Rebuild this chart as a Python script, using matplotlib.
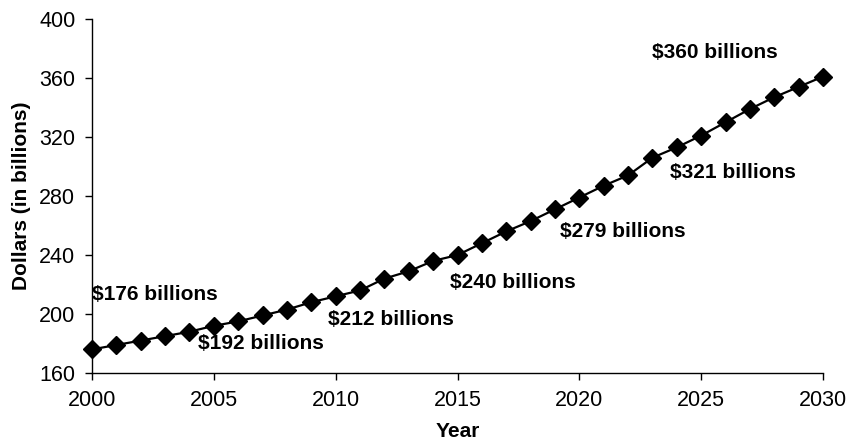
import matplotlib
matplotlib.use("Agg")
import matplotlib.pyplot as plt

years = list(range(2000, 2031))
values = [176, 179, 182, 185, 188, 192, 195, 199, 203, 208, 212, 216, 224, 229, 236,
          240, 248, 256, 263, 271, 279, 287, 294, 306, 313, 321, 330, 339, 347, 354, 361]

ann_text = ["$176 billions", "$192 billions", "$212 billions", "$240 billions",
            "$279 billions", "$321 billions", "$360 billions"]
ann_x = [2000.0, 2004.35, 2009.7, 2014.7, 2019.2, 2023.7, 2023.0]
ann_y = [213, 180.3, 196, 221.7, 256, 296, 377.6]

plt.rcParams['font.family'] = ['Liberation Sans', 'DejaVu Sans']

fig = plt.figure(figsize=(8.49, 4.43), dpi=100)
ax = fig.add_axes([0.1084, 0.158, 0.861, 0.799])
ax.plot(years, values, color='black', lw=1.6, marker='D', ms=9.5, mfc='black', mec='black')

for t, x, y in zip(ann_text, ann_x, ann_y):
    ax.text(x, y, t, fontsize=15, fontweight='bold', ha='left', va='center')

ax.set_xlim(2000, 2030)
ax.set_ylim(160, 400)
ax.set_xticks(range(2000, 2031, 5))
ax.set_yticks(range(160, 401, 40))
ax.spines['top'].set_visible(False)
ax.spines['right'].set_visible(False)
ax.tick_params(axis='both', labelsize=15.5, direction='out', length=5, width=1)
ax.tick_params(axis='x', pad=7)
ax.tick_params(axis='y', pad=7)
ax.set_xlabel('Year', fontsize=15, fontweight='bold', labelpad=8)
ax.set_ylabel('Dollars (in billions)', fontsize=15, fontweight='bold', labelpad=6)
for sp in ax.spines.values():
    sp.set_linewidth(1)
    sp.set_clip_on(False)
for line in ax.get_lines():
    line.set_clip_on(False)

fig.savefig('out.png', dpi=100)
